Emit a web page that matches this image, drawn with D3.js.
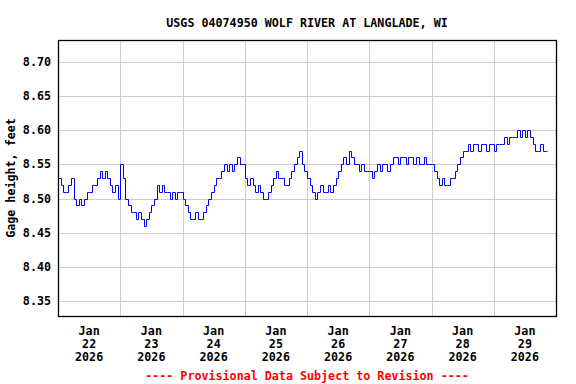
<!DOCTYPE html>
<html lang="en">
<head>
<meta charset="utf-8">
<title>USGS 04074950 Wolf River at Langlade</title>
<script src="https://d3js.org/d3.v7.min.js"></script>
<style>
  body { margin: 0; background: #fff; }
  text { font-family: "DejaVu Sans Mono", monospace; font-weight: bold; font-size: 11.7px; }
</style>
</head>
<body>
<svg id="chart"></svg>
<script>
// hourly gage height readings (feet), one array per day, starting at midnight
var jan22 = [8.53, 8.52, 8.51, 8.51, 8.52, 8.53, 8.50, 8.49, 8.50, 8.49, 8.50, 8.51,
             8.51, 8.52, 8.52, 8.53, 8.54, 8.53, 8.54, 8.53, 8.52, 8.51, 8.52, 8.50];
var jan23 = [8.55, 8.53, 8.50, 8.49, 8.48, 8.48, 8.47, 8.48, 8.47, 8.46, 8.47, 8.48,
             8.49, 8.50, 8.52, 8.51, 8.52, 8.51, 8.51, 8.50, 8.51, 8.50, 8.51, 8.51];
var jan24 = [8.50, 8.49, 8.48, 8.47, 8.47, 8.48, 8.47, 8.47, 8.48, 8.49, 8.50, 8.51,
             8.52, 8.53, 8.53, 8.54, 8.55, 8.54, 8.55, 8.54, 8.55, 8.56, 8.55, 8.55];
var jan25 = [8.53, 8.52, 8.53, 8.52, 8.51, 8.52, 8.51, 8.50, 8.50, 8.51, 8.52, 8.53,
             8.54, 8.53, 8.53, 8.52, 8.52, 8.53, 8.54, 8.55, 8.56, 8.57, 8.55, 8.54];
var jan26 = [8.53, 8.52, 8.51, 8.50, 8.51, 8.52, 8.51, 8.51, 8.52, 8.51, 8.52, 8.53,
             8.54, 8.55, 8.56, 8.55, 8.57, 8.56, 8.55, 8.55, 8.54, 8.55, 8.54, 8.54];
var jan27 = [8.54, 8.53, 8.54, 8.55, 8.54, 8.55, 8.55, 8.54, 8.55, 8.56, 8.56, 8.55,
             8.56, 8.56, 8.55, 8.56, 8.56, 8.55, 8.56, 8.55, 8.55, 8.56, 8.55, 8.55];
var jan28 = [8.55, 8.54, 8.53, 8.52, 8.53, 8.52, 8.52, 8.53, 8.53, 8.54, 8.55, 8.56,
             8.57, 8.57, 8.58, 8.57, 8.58, 8.58, 8.57, 8.58, 8.58, 8.57, 8.58, 8.58];
var jan29 = [8.57, 8.58, 8.58, 8.58, 8.59, 8.58, 8.59, 8.59, 8.59, 8.60, 8.59, 8.60,
             8.59, 8.60, 8.59, 8.58, 8.57, 8.57, 8.58, 8.57, 8.57];

var days = [jan22, jan23, jan24, jan25, jan26, jan27, jan28, jan29];
var dayLabels = ["22", "23", "24", "25", "26", "27", "28", "29"];
var yTicks = [8.35, 8.40, 8.45, 8.50, 8.55, 8.60, 8.65, 8.70];

var title = "USGS 04074950 WOLF RIVER AT LANGLADE, WI";
var yTitle = "Gage height, feet";
var footer = "---- Provisional Data Subject to Revision ----";

var config = {
  w: 576,
  h: 384,
  left: 58,
  right: 556,
  top: 40,
  bottom: 316
};

var start = new Date(2026, 0, 22);
var end = new Date(2026, 0, 30);

// flatten day arrays into dated points
var data = [];
days.forEach(function(day, i) {
  day.forEach(function(v, h) {
    data.push({ t: d3.timeHour.offset(start, i * 24 + h), v: v });
  });
});
// hold last reading a little past its hour
data.push({ t: d3.timeMinute.offset(data[data.length - 1].t, 36), v: data[data.length - 1].v });

var x = d3.scaleTime().domain([start, end]).range([config.left, config.right]);
var y = d3.scaleLinear().domain([8.3285, 8.7315]).range([config.bottom, config.top]);

var svg = d3.select("#chart")
  .attr("width", config.w)
  .attr("height", config.h);

// grid
var midnights = d3.timeDay.range(d3.timeDay.offset(start, 1), end);
svg.append("g").selectAll("line")
  .data(midnights)
  .enter()
  .append("line")
    .attr("x1", function(d) { return Math.round(x(d)) + 0.5; })
    .attr("x2", function(d) { return Math.round(x(d)) + 0.5; })
    .attr("y1", config.top)
    .attr("y2", config.bottom)
    .attr("stroke", "#cccccc");

svg.append("g").selectAll("line")
  .data(yTicks)
  .enter()
  .append("line")
    .attr("x1", config.left)
    .attr("x2", config.right)
    .attr("y1", function(d) { return Math.round(y(d)) + 0.5; })
    .attr("y2", function(d) { return Math.round(y(d)) + 0.5; })
    .attr("stroke", "#cccccc");

// the data line
var line = d3.line()
  .curve(d3.curveStepAfter)
  .x(function(d) { return Math.round(x(d.t)) + 0.5; })
  .y(function(d) { return Math.round(y(d.v)) + 0.5; });

svg.append("path")
  .datum(data)
  .attr("d", line)
  .attr("fill", "none")
  .attr("stroke", "#0000ff")
  .attr("stroke-width", 1);

// frame
svg.append("rect")
  .attr("x", config.left + 0.5)
  .attr("y", config.top + 0.5)
  .attr("width", config.right - config.left)
  .attr("height", config.bottom - config.top)
  .attr("fill", "none")
  .attr("stroke", "#000")
  .attr("stroke-width", 1.3);

// y tick labels
svg.append("g").selectAll("text")
  .data(yTicks)
  .enter()
  .append("text")
    .attr("x", 51)
    .attr("y", function(d) { return y(d) + 4; })
    .attr("text-anchor", "end")
    .text(function(d) { return d3.format(".2f")(d); });

// x labels, centred on each day
var noons = days.map(function(d, i) { return d3.timeHour.offset(start, i * 24 + 12); });
var xl = svg.append("g").selectAll("g")
  .data(noons)
  .enter()
  .append("g")
    .attr("transform", function(d) { return "translate(" + x(d) + ",0)"; });
xl.append("text").attr("y", 335).attr("text-anchor", "middle").text("Jan");
xl.append("text").attr("y", 348).attr("text-anchor", "middle")
  .text(function(d, i) { return dayLabels[i]; });
xl.append("text").attr("y", 361).attr("text-anchor", "middle").text("2026");

// titles
var cx = (config.left + config.right) / 2;
svg.append("text")
  .attr("x", cx)
  .attr("y", 27)
  .attr("text-anchor", "middle")
  .text(title);

svg.append("text")
  .attr("transform", "translate(15," + ((config.top + config.bottom) / 2) + ") rotate(-90)")
  .attr("text-anchor", "middle")
  .text(yTitle);

svg.append("text")
  .attr("x", cx)
  .attr("y", 380)
  .attr("text-anchor", "middle")
  .attr("fill", "#ff0000")
  .text(footer);
</script>
</body>
</html>
